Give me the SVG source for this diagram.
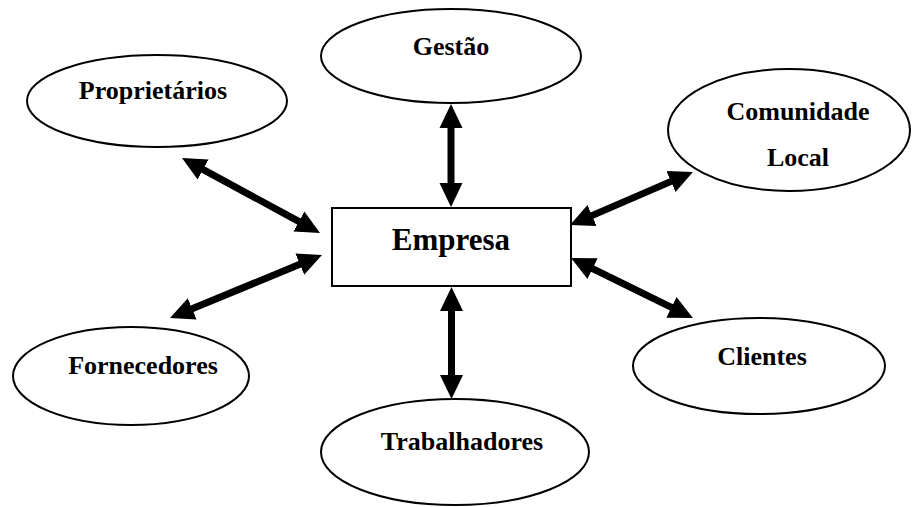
<svg xmlns="http://www.w3.org/2000/svg" width="920" height="507" viewBox="0 0 920 507">
<style>
.node ellipse{fill:#fff;stroke:#000;stroke-width:2}
.node rect{fill:#fff;stroke:#000;stroke-width:2}
text{font-family:"Liberation Serif","Times New Roman",serif;font-weight:bold;fill:#000;text-anchor:middle}
.lbl{font-size:26px}
.main{font-size:31px}
.conn line{stroke:#000;stroke-width:7;marker-start:url(#head);marker-end:url(#head)}
</style>
<defs>
<marker id="head" viewBox="0 -12 26 24" markerWidth="26" markerHeight="24" refX="4" refY="0" markerUnits="userSpaceOnUse" orient="auto-start-reverse">
<path d="M0,-11.5 L24,0 L0,11.5 z" fill="#000"/>
</marker>
</defs>
<rect width="920" height="507" fill="#fff"/>
<g id="proprietarios" class="node"><ellipse cx="157" cy="101" rx="130" ry="46"/><text class="lbl" x="153" y="99">Proprietários</text></g>
<g id="gestao" class="node"><ellipse cx="451" cy="56" rx="130" ry="47"/><text class="lbl" x="451" y="55">Gestão</text></g>
<g id="comunidade" class="node"><ellipse cx="789" cy="130" rx="121" ry="61"/><text class="lbl" x="798" y="120">Comunidade</text><text class="lbl" x="798" y="166">Local</text></g>
<g id="empresa" class="node"><rect x="332" y="208" width="239" height="78"/><text class="main" x="451" y="250">Empresa</text></g>
<g id="fornecedores" class="node"><ellipse cx="131" cy="376" rx="118" ry="49"/><text class="lbl" x="143" y="374">Fornecedores</text></g>
<g id="clientes" class="node"><ellipse cx="759" cy="366" rx="126" ry="48"/><text class="lbl" x="762" y="365">Clientes</text></g>
<g id="trabalhadores" class="node"><ellipse cx="455" cy="452" rx="134" ry="53"/><text class="lbl" x="462" y="450">Trabalhadores</text></g>
<g id="connectors" class="conn">
<line x1="199.6" y1="167.6" x2="302.4" y2="223.4"/>
<line x1="451" y1="124" x2="451" y2="187"/>
<line x1="588.4" y1="217.1" x2="674.6" y2="179.9"/>
<line x1="303.5" y1="262.7" x2="188.5" y2="310.3"/>
<line x1="589" y1="266.8" x2="675" y2="309.2"/>
<line x1="451.5" y1="307" x2="451.5" y2="379"/>
</g>
</svg>
